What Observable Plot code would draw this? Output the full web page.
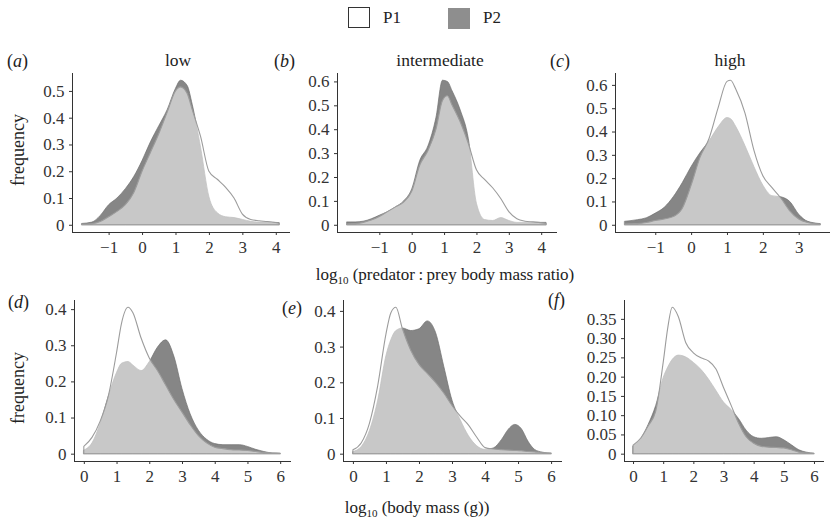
<!DOCTYPE html>
<html>
<head>
<meta charset="utf-8">
<script src="https://cdn.jsdelivr.net/npm/d3@7"></script>
<script src="https://cdn.jsdelivr.net/npm/@observablehq/plot@0.6"></script>
<style>
  body { margin: 0; background: #fff; }
  #root { position: relative; width: 830px; height: 518px; overflow: hidden; font-family: "Liberation Serif", "DejaVu Serif", serif; color: #222; }
  .abs { position: absolute; white-space: nowrap; }
  .ctr { transform: translateX(-50%); }
  .title { font-size: 17.5px; line-height: 17px; }
  .tag { font-size: 18px; line-height: 17px; }
  .ylab { font-size: 18px; line-height: 18px; transform: translate(-50%, -50%) rotate(-90deg); }
  .xlab { font-size: 17px; line-height: 17px; transform: translate(-50%, -50%); }
  .xlab sub { font-size: 11px; vertical-align: -4px; line-height: 0; }
  .key { position: absolute; width: 22px; height: 21px; box-sizing: border-box; }
</style>
</head>
<body>
<div id="root"></div>
<script>
// ---------- data ----------
const seriesNames = ["P1", "P2"];
const panelTags = ["a", "b", "c", "d", "e", "f"];
const panelTitles = ["low", "intermediate", "high"];

// (a) low — log10 predator:prey body mass ratio
const lowX  = [-1.8, -1.5, -1.25, -1, -0.75, -0.5, -0.25, 0, 0.25, 0.5, 0.75, 1, 1.15, 1.35, 1.5, 1.75, 2, 2.25, 2.5, 2.75, 3, 3.25, 3.5, 3.75, 4.1];
const lowP1 = [0.002, 0.004, 0.012, 0.03, 0.05, 0.075, 0.12, 0.2, 0.27, 0.34, 0.42, 0.5, 0.515, 0.49, 0.43, 0.33, 0.2, 0.17, 0.14, 0.1, 0.04, 0.02, 0.015, 0.012, 0.006];
const lowP2 = [0.005, 0.01, 0.035, 0.075, 0.1, 0.135, 0.18, 0.24, 0.31, 0.37, 0.43, 0.51, 0.54, 0.52, 0.45, 0.29, 0.105, 0.045, 0.03, 0.027, 0.02, 0.013, 0.01, 0.01, 0.008];

// (b) intermediate
const midX  = [-2, -1.75, -1.5, -1.25, -1, -0.75, -0.5, -0.25, 0, 0.25, 0.5, 0.75, 0.95, 1.1, 1.25, 1.5, 1.75, 2, 2.25, 2.5, 2.75, 3, 3.25, 3.5, 3.75, 4.15];
const midP1 = [0.003, 0.005, 0.01, 0.02, 0.035, 0.055, 0.075, 0.095, 0.14, 0.25, 0.31, 0.4, 0.52, 0.54, 0.5, 0.43, 0.34, 0.23, 0.19, 0.155, 0.11, 0.055, 0.025, 0.015, 0.012, 0.006];
const midP2 = [0.012, 0.012, 0.015, 0.025, 0.04, 0.055, 0.075, 0.1, 0.15, 0.27, 0.33, 0.45, 0.605, 0.6, 0.56, 0.48, 0.36, 0.09, 0.022, 0.018, 0.03, 0.018, 0.01, 0.01, 0.01, 0.01];

// (c) high
const highX  = [-1.85, -1.5, -1.25, -1, -0.75, -0.5, -0.25, 0, 0.25, 0.5, 0.75, 1, 1.1, 1.25, 1.5, 1.75, 2, 2.25, 2.5, 2.75, 3, 3.25, 3.6];
const highP1 = [0.003, 0.005, 0.01, 0.018, 0.025, 0.035, 0.07, 0.17, 0.29, 0.37, 0.5, 0.615, 0.62, 0.58, 0.48, 0.32, 0.21, 0.16, 0.115, 0.06, 0.025, 0.01, 0.003];
const highP2 = [0.015, 0.022, 0.03, 0.05, 0.075, 0.12, 0.18, 0.25, 0.31, 0.36, 0.42, 0.46, 0.455, 0.42, 0.34, 0.25, 0.17, 0.125, 0.12, 0.1, 0.045, 0.015, 0.005];

// (d) low — log10 body mass (g)
const massLowX  = [0, 0.25, 0.5, 0.75, 1, 1.15, 1.35, 1.5, 1.75, 2, 2.25, 2.5, 2.75, 3, 3.25, 3.5, 3.75, 4, 4.25, 4.5, 4.75, 5, 5.25, 5.5, 5.75, 6];
const massLowP1 = [0.02, 0.045, 0.09, 0.16, 0.28, 0.36, 0.405, 0.39, 0.32, 0.265, 0.23, 0.19, 0.15, 0.115, 0.08, 0.05, 0.03, 0.018, 0.014, 0.011, 0.01, 0.009, 0.006, 0.003, 0.002, 0.001];
const massLowP2 = [0.01, 0.03, 0.085, 0.16, 0.225, 0.25, 0.255, 0.245, 0.23, 0.255, 0.295, 0.315, 0.27, 0.18, 0.11, 0.065, 0.04, 0.028, 0.025, 0.025, 0.025, 0.02, 0.012, 0.006, 0.002, 0.001];

// (e) intermediate
const massMidX  = [0, 0.25, 0.5, 0.75, 1, 1.15, 1.3, 1.5, 1.75, 2, 2.25, 2.5, 2.75, 3, 3.25, 3.5, 3.75, 4, 4.25, 4.5, 4.7, 4.9, 5.1, 5.3, 5.5, 5.75, 6];
const massMidP1 = [0.011, 0.03, 0.085, 0.19, 0.335, 0.395, 0.41, 0.35, 0.29, 0.25, 0.225, 0.2, 0.17, 0.135, 0.105, 0.08, 0.046, 0.017, 0.013, 0.011, 0.01, 0.009, 0.008, 0.006, 0.005, 0.003, 0.002];
const massMidP2 = [0.006, 0.02, 0.065, 0.15, 0.275, 0.32, 0.345, 0.352, 0.345, 0.35, 0.372, 0.34, 0.245, 0.15, 0.095, 0.05, 0.022, 0.012, 0.016, 0.04, 0.068, 0.082, 0.07, 0.035, 0.012, 0.004, 0.001];

// (f) high
const massHighX  = [0, 0.25, 0.5, 0.75, 1, 1.15, 1.3, 1.5, 1.75, 2, 2.25, 2.5, 2.75, 3, 3.25, 3.5, 3.75, 4, 4.25, 4.5, 4.75, 5, 5.25, 5.5, 5.75, 6];
const massHighP1 = [0.022, 0.04, 0.072, 0.11, 0.237, 0.326, 0.38, 0.356, 0.288, 0.262, 0.249, 0.241, 0.22, 0.172, 0.126, 0.079, 0.044, 0.027, 0.019, 0.017, 0.016, 0.015, 0.01, 0.004, 0.002, 0.001];
const massHighP2 = [0.02, 0.038, 0.076, 0.125, 0.198, 0.225, 0.245, 0.256, 0.251, 0.237, 0.219, 0.194, 0.164, 0.134, 0.115, 0.091, 0.061, 0.044, 0.04, 0.042, 0.044, 0.036, 0.023, 0.01, 0.004, 0.001];

// tick values
const ratioTicks = [-1, 0, 1, 2, 3, 4];
const ratioTicksHigh = [-1, 0, 1, 2, 3];
const massTicks = [0, 1, 2, 3, 4, 5, 6];
const freqTicks06 = [0, 0.1, 0.2, 0.3, 0.4, 0.5, 0.6];
const freqTicks04 = [0, 0.1, 0.2, 0.3, 0.4];
const freqTicks035 = [0, 0.05, 0.1, 0.15, 0.2, 0.25, 0.3, 0.35];

// ---------- drawing ----------
const root = document.getElementById("root");
const P2FILL = "#868686", P1STROKE = "#9c9c9c";

function addHTML(html, cls, style) {
  const d = document.createElement("div");
  d.className = "abs " + (cls || "");
  d.innerHTML = html;
  Object.assign(d.style, style);
  root.appendChild(d);
  return d;
}

function panel(xs, p1, p2, xTicks, yTicks, yFmt, frame) {
  const rows = xs.map((x, i) => ({x, p1: p1[i], p2: p2[i]}));
  const [x0, x1] = d3.extent(xs);
  const xr = x1 - x0;
  const ymax = d3.max([...p1, ...p2]);
  const mL = 60, mT = 10, mR = 10, mB = 34;
  const w = frame.x1 - frame.x0 + mL + mR;
  const h = frame.y1 - frame.y0 + mT + mB;
  const chart = Plot.plot({
    width: w, height: h,
    marginLeft: mL, marginTop: mT, marginRight: mR, marginBottom: mB,
    style: {fontFamily: '"Liberation Serif", serif', fontSize: "17px", color: "#333", background: "transparent", overflow: "visible"},
    x: {domain: [x0 - 0.05 * xr, x1 + 0.05 * xr], ticks: xTicks, tickFormat: d3.format("d"), tickSize: 3, tickPadding: 5, line: true, label: null},
    y: {domain: [-0.05 * ymax, 1.05 * ymax], ticks: yTicks, tickFormat: yFmt, tickSize: 3, tickPadding: 5, line: true, label: null},
    marks: [
      Plot.areaY(rows, {x: "x", y: "p2", fill: P2FILL, stroke: "#707070", strokeWidth: 0.7, curve: "monotone-x"}),
      Plot.areaY(rows, {x: "x", y: "p1", fill: "#ffffff", fillOpacity: 0.55, stroke: P1STROKE, strokeWidth: 1.1, curve: "monotone-x"})
    ]
  });
  const wrap = document.createElement("div");
  wrap.className = "abs";
  Object.assign(wrap.style, {left: (frame.x0 - mL) + "px", top: (frame.y0 - mT) + "px", width: w + "px", height: h + "px"});
  wrap.appendChild(chart);
  root.appendChild(wrap);
}

const fmt1 = d => d === 0 ? "0" : d3.format(".1f")(d);
const fmt2 = d => d === 0 ? "0" : d3.format(".2f")(d);

panel(lowX, lowP1, lowP2, ratioTicks, freqTicks06.slice(0, 6), fmt1, {x0: 72, x1: 289, y0: 73, y1: 232});
panel(midX, midP1, midP2, ratioTicks, freqTicks06, fmt1, {x0: 337, x1: 556, y0: 73, y1: 232});
panel(highX, highP1, highP2, ratioTicksHigh, freqTicks06, fmt1, {x0: 615, x1: 830, y0: 73, y1: 232});
panel(massLowX, massLowP1, massLowP2, massTicks, freqTicks04, fmt1, {x0: 74, x1: 290, y0: 300, y1: 461});
panel(massMidX, massMidP1, massMidP2, massTicks, freqTicks04, fmt1, {x0: 343, x1: 561, y0: 300, y1: 461});
panel(massHighX, massHighP1, massHighP2, massTicks, freqTicks035, fmt2, {x0: 624, x1: 823, y0: 300, y1: 461});

// legend
const k1 = document.createElement("div");
k1.className = "key"; Object.assign(k1.style, {left: "348px", top: "7px", border: "1.5px solid #333", background: "#fff"});
root.appendChild(k1);
addHTML(seriesNames[0], "", {left: "383px", top: "8px", fontSize: "17px", lineHeight: "20px"});
const k2 = document.createElement("div");
k2.className = "key"; Object.assign(k2.style, {left: "448px", top: "8px", background: "#8e8e8e"});
root.appendChild(k2);
addHTML(seriesNames[1], "", {left: "483px", top: "8px", fontSize: "17px", lineHeight: "20px"});

// panel tags and titles
const tagPos = [[7, 53], [274, 53], [550, 53], [8, 294], [282, 300], [548, 292]];
panelTags.forEach((t, i) => addHTML("(<i>" + t + "</i>)", "tag", {left: tagPos[i][0] + "px", top: tagPos[i][1] + "px"}));
const titlePos = [[178, 52], [440, 52], [730, 52]];
panelTitles.forEach((t, i) => addHTML(t, "title ctr", {left: titlePos[i][0] + "px", top: titlePos[i][1] + "px"}));

// axis titles
addHTML("frequency", "ylab", {left: "18px", top: "150px"});
addHTML("frequency", "ylab", {left: "18px", top: "388px"});
addHTML("log<sub>10</sub> (predator\u2009:\u2009prey body mass ratio)", "xlab", {left: "445px", top: "274px"});
addHTML("log<sub>10</sub> (body mass (g))", "xlab", {left: "417px", top: "507px"});
</script>
</body>
</html>
